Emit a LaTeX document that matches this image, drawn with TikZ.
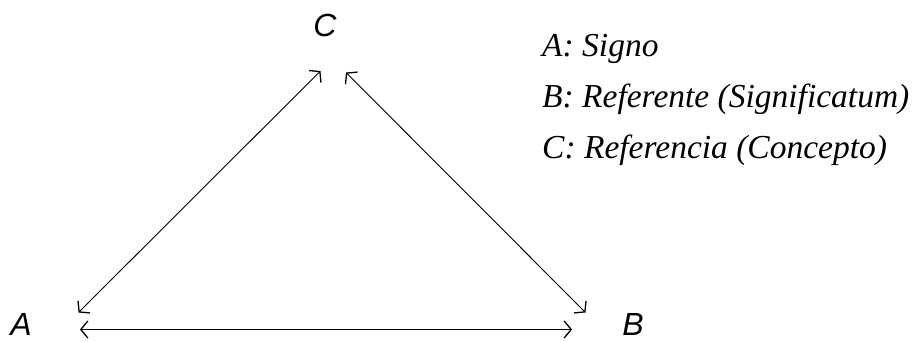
\documentclass[tikz,border=0pt]{standalone}
\usepackage{fontspec}
\setmainfont{Liberation Serif}
\newfontfamily\labelfont{Liberation Sans Italic}
\newfontfamily\legendfont{Liberation Serif Italic}
\usetikzlibrary{arrows.meta}
\tikzset{
  vertex/.style={font=\labelfont\fontsize{32}{32}\selectfont, inner sep=0pt, anchor=base},
  legend/.style={font=\legendfont\fontsize{33.5}{33.5}\selectfont, inner sep=0pt, anchor=base west},
  link/.style={line width=0.9pt, {Straight Barb[length=7pt,width=17pt,line width=1.3pt]}-{Straight Barb[length=7pt,width=17pt,line width=1.3pt]}}
}
\begin{document}
\begin{tikzpicture}[x=1pt,y=-1pt]
\useasboundingbox (0,0) rectangle (912,341);
\node[vertex] (A) at (21,335) {A};
\node[vertex] (B) at (633,335) {B};
\node[vertex] (C) at (325,36.5) {C};
\coordinate (ac) at (78.5,312.5);
\coordinate (ca) at (320.5,71);
\coordinate (cb) at (346,72.5);
\coordinate (bc) at (585.5,312.5);
\coordinate (ab) at (80,329.5);
\coordinate (ba) at (572,329.5);
\draw[link] (ac) -- (ca);
\draw[link] (cb) -- (bc);
\draw[link] (ab) -- (ba);
\node[legend] (l1) at (542,56) {A: Signo};
\node[legend] (l2) at (542,107) {B: Referente (Significatum)};
\node[legend] (l3) at (542,158) {C: Referencia (Concepto)};
\end{tikzpicture}
\end{document}
